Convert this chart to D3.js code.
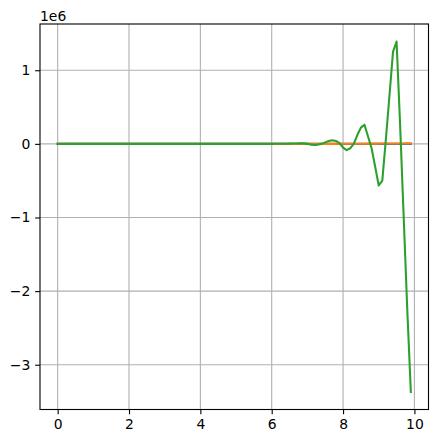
<!DOCTYPE html>
<html>
<head>
<meta charset="utf-8">
<script src="https://cdn.jsdelivr.net/npm/d3@7"></script>
<style>
  body { margin: 0; background: #fff; }
  svg text { font-family: "DejaVu Sans", sans-serif; font-size: 13.9px; fill: #000; }
</style>
</head>
<body>
<svg id="chart" width="437" height="443"></svg>
<script>
// sample positions (x from 0 to 9.9)
const xs = d3.range(100).map((i) => i / 10);

// values are in units of 1e6 (offset text shown on the axis)
const blueVals = [
  0,0,0,0,0,0,0,0,0,0, 0,0,0,0,0,0,0,0,0,0,
  0,0,0,0,0,0,0,0,0,0, 0,0,0,0,0,0,0,0,0,0,
  0,0,0,0,0,0,0,0,0,0, 0,0,0,0,0,0,0,0,0,0,
  0,0,0,0,0,0,0,0,0,0, 0,0,0,0,0,0,0,0,0,0,
  0,0,0,0,0,0,0,0,0,0, 0,0,0,0,0,0,0,0,0,0
];

const orangeVals = [
  0,0,0,0,0,0,0,0,0,0, 0,0,0,0,0,0,0,0,0,0,
  0,0,0,0,0,0,0,0,0,0, 0,0,0,0,0,0,0,0,0,0,
  0,0,0,0,0,0,0,0,0,0, 0,0,0,0,0,0,0,0,0,0,
  0,0,0,0,0,0,0,0,0,0, 0,0,0,0,0,0,0,0,0,0.001,
  0.001,0.001,0.001,0.002,0.002,0.002,0.002,0.003,0.003,0.003,
  0.003,0.004,0.004,0.005,0.005,0.005,0.006,0.006,0.007,0.008
];

const greenVals = [
  0,0,0,0,0,0,0,0,0,0, 0,0,0,0,0,0,0,0,0,0,
  0,0,0,0,0,0,0,0,0,0, 0,0,0,0,0,0,0,0,0,0,
  0,0,0,0,0,0,0,0,0,0, 0,0,0,0,0,0,0,0,0,0,
  0,0.001,0.001,0.002,0.002,0.003,0.004,0.006,0.008,0.007,
  0.0,-0.01,-0.015,-0.01,0.0,0.02,0.04,0.05,0.04,0.01,
  -0.05,-0.085,-0.06,0.0,0.12,0.22,0.26,0.10,-0.06,-0.31,
  -0.565,-0.50,0.06,0.65,1.25,1.39,0.25,-1.0,-2.25,-3.37
];

const seriesList = [
  { name: 'blue', color: '#1f77b4', values: blueVals },
  { name: 'orange', color: '#ff7f0e', values: orangeVals },
  { name: 'green', color: '#2ca02c', values: greenVals }
];

const xTicks = [0, 2, 4, 6, 8, 10];
const yTicks = [-3, -2, -1, 0, 1];

function makeChart() {
  let left = 40, top = 24, right = 428.5, bottom = 409.5;
  let svg = d3.select('#chart');

  // matplotlib style 5% margins around the data
  let xmin = d3.min(xs), xmax = d3.max(xs);
  let xpad = (xmax - xmin) * 0.05;
  let allY = seriesList.flatMap((s) => s.values);
  let ymin = d3.min(allY), ymax = d3.max(allY);
  let ypad = (ymax - ymin) * 0.05;

  let xScale = d3.scaleLinear()
    .domain([xmin - xpad, xmax + xpad])
    .range([left, right]);

  let yScale = d3.scaleLinear()
    .domain([ymin - ypad, ymax + ypad])
    .range([bottom, top]);

  // grid
  let grid = svg.append('g');
  grid.selectAll('line.gx')
    .data(xTicks)
    .enter()
    .append('line')
    .attr('x1', (d) => xScale(d)).attr('x2', (d) => xScale(d))
    .attr('y1', top).attr('y2', bottom)
    .attr('stroke', '#b0b0b0').attr('stroke-width', 1.1);
  grid.selectAll('line.gy')
    .data(yTicks)
    .enter()
    .append('line')
    .attr('y1', (d) => yScale(d)).attr('y2', (d) => yScale(d))
    .attr('x1', left).attr('x2', right)
    .attr('stroke', '#b0b0b0').attr('stroke-width', 1.1);

  // lines
  let line = d3.line()
    .x((d, i) => xScale(xs[i]))
    .y((d) => yScale(d));

  svg.append('g')
    .selectAll('path')
    .data(seriesList)
    .enter()
    .append('path')
    .attr('d', (s) => line(s.values))
    .attr('fill', 'none')
    .attr('stroke', (s) => s.color)
    .attr('stroke-width', 2.08)
    .attr('stroke-linejoin', 'round')
    .attr('stroke-linecap', 'square');

  // axes, tick length and pad 3.5pt at 100 dpi
  let fmt = (d) => String(d).replace('-', '\u2212');
  let xAxis = svg.append('g')
    .attr('transform', `translate(0, ${bottom})`)
    .call(d3.axisBottom(xScale).tickValues(xTicks).tickFormat(fmt).tickSize(4.86).tickPadding(4.86));
  let yAxis = svg.append('g')
    .attr('transform', `translate(${left}, 0)`)
    .call(d3.axisLeft(yScale).tickValues(yTicks).tickFormat(fmt).tickSize(4.86).tickPadding(4.86));

  [xAxis, yAxis].forEach((g) => {
    g.select('.domain').remove();
    g.selectAll('.tick line').attr('stroke', '#000').attr('stroke-width', 1.1);
    g.selectAll('.tick text').attr('font-size', 13.9).attr('font-family', '"DejaVu Sans", sans-serif').attr('fill', '#000');
  });

  // frame
  svg.append('rect')
    .attr('x', left).attr('y', top)
    .attr('width', right - left).attr('height', bottom - top)
    .attr('fill', 'none').attr('stroke', '#000').attr('stroke-width', 1.1);

  // offset text
  svg.append('text')
    .attr('x', left)
    .attr('y', top - 3)
    .text('1e6');
}

makeChart();
</script>
</body>
</html>
